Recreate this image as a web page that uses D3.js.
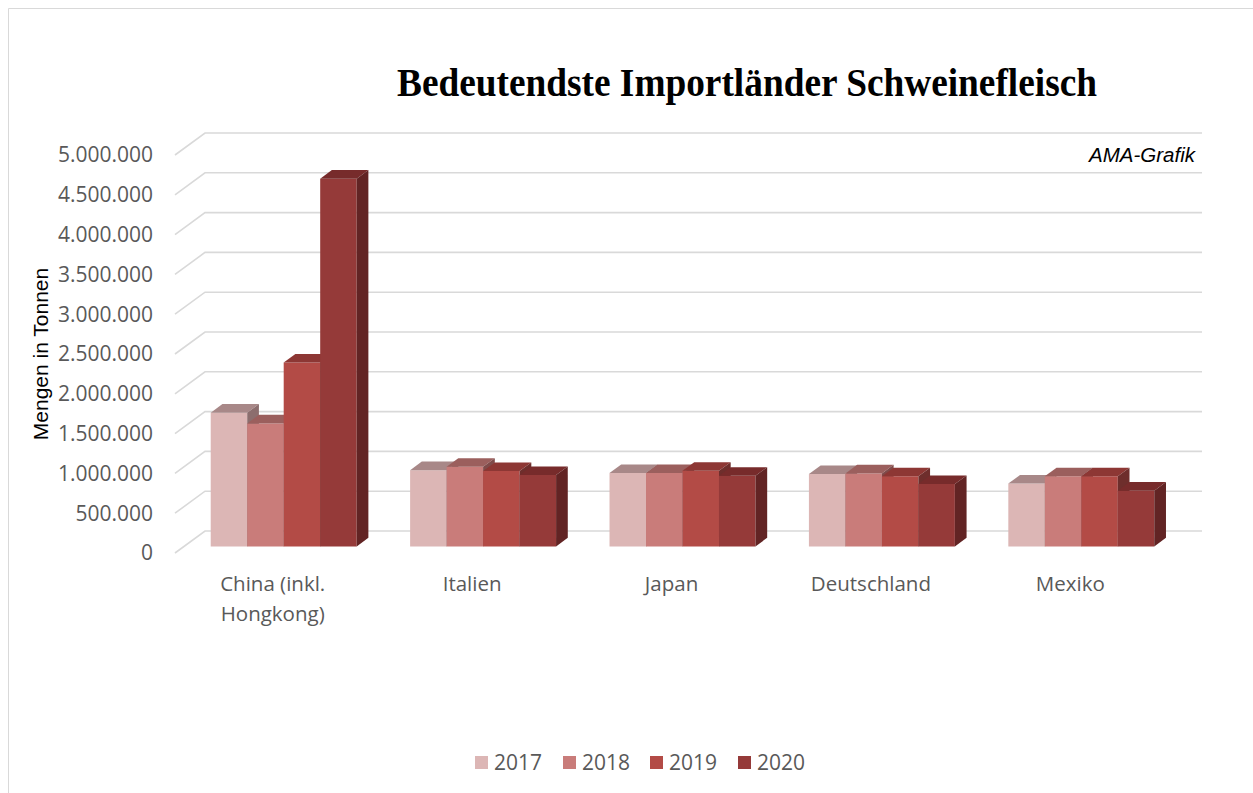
<!DOCTYPE html>
<html>
<head>
<meta charset="utf-8">
<script src="https://cdn.jsdelivr.net/npm/d3@7"></script>
<style>
  body { margin: 0; background: #fff; }
  svg { display: block; }
</style>
</head>
<body>
<div id="chart"></div>
<script>
// data
const categories = ["China (inkl. Hongkong)", "Italien", "Japan", "Deutschland", "Mexiko"]
const categoryLines = [["China (inkl.", "Hongkong)"], ["Italien"], ["Japan"], ["Deutschland"], ["Mexiko"]]
const years = ["2017", "2018", "2019", "2020"]
const values2017 = [1680000, 958000, 922000, 910000, 790000]
const values2018 = [1545000, 1000000, 922000, 917000, 880000]
const values2019 = [2310000, 946000, 950000, 880000, 880000]
const values2020 = [4620000, 896000, 888000, 784000, 700000]
const yTicks = [0, 500000, 1000000, 1500000, 2000000, 2500000, 3000000, 3500000, 4000000, 4500000, 5000000]

const series = [values2017, values2018, values2019, values2020]

const frontColors = ["#dcb6b5", "#c97c7a", "#b34b46", "#953a39"]
const topColors = ["#a88888", "#9b5f5d", "#8d3734", "#772b2b"]
const sideColors = ["#8c6e6e", "#7f4b4a", "#6e2e2c", "#622424"]

const width = 1253, height = 793

const svg = d3.select("#chart").append("svg")
    .attr("width", width)
    .attr("height", height)

// outer frame
svg.append("path")
    .attr("d", "M8.5,800 L8.5,8.5 L1260,8.5")
    .attr("fill", "none")
    .attr("stroke", "#d9d9d9")
    .attr("stroke-width", 1)

// oblique projection: depth 0 = front floor edge, 1 = back wall
const DX = 30, DY = -22
const proj = (x, y, d) => [x + DX * d, y + DY * d]

const x = d3.scaleBand().domain(categories).range([175, 1172])
const y = d3.scaleLinear().domain([0, 5000000]).range([553, 155])

const groupW = x.bandwidth() * 0.732
const xSub = d3.scaleBand().domain(years).range([0, groupW])

// gridlines
const grid = svg.append("g")
yTicks.forEach(t => {
    const [bx, by] = proj(175, y(t), 1)
    grid.append("path")
        .attr("d", `M175,${y(t)} L${bx},${by} L${1172 + DX},${by}`)
        .attr("fill", "none")
        .attr("stroke", "#d9d9d9")
        .attr("stroke-width", 1.6)
})

// y tick labels
svg.append("g").selectAll("text")
    .data(yTicks)
    .join("text")
    .attr("x", 153)
    .attr("y", d => y(d))
    .attr("dy", "0.35em")
    .attr("text-anchor", "end")
    .style("font-family", "'Open Sans', sans-serif")
    .style("font-size", "21px")
    .style("fill", "#595959")
    .text(d => d3.format(",")(d).replace(/,/g, "."))

// axis title
svg.append("text")
    .attr("transform", "translate(48,354) rotate(-90)")
    .attr("text-anchor", "middle")
    .style("font-family", "'Liberation Sans', Arial, sans-serif")
    .style("font-size", "21px")
    .style("fill", "#000")
    .text("Mengen in Tonnen")

// bars
const D0 = 0.3, D1 = 0.69
const bars = svg.append("g")
categories.forEach((cat, ci) => {
    const gx = x(cat) + (x.bandwidth() - groupW) / 2
    years.forEach((yr, si) => {
        const v = series[si][ci]
        const x0 = gx + xSub(yr), x1 = x0 + xSub.bandwidth()
        const yb = y(0), yt = y(v)
        const pts = (arr) => arr.map(p => p.join(",")).join(" ")
        // front
        bars.append("polygon")
            .attr("points", pts([proj(x0, yt, D0), proj(x1, yt, D0), proj(x1, yb, D0), proj(x0, yb, D0)]))
            .attr("fill", frontColors[si])
        // top
        bars.append("polygon")
            .attr("points", pts([proj(x0, yt, D0), proj(x1, yt, D0), proj(x1, yt, D1), proj(x0, yt, D1)]))
            .attr("fill", topColors[si])
        // side
        bars.append("polygon")
            .attr("points", pts([proj(x1, yt, D0), proj(x1, yt, D1), proj(x1, yb, D1), proj(x1, yb, D0)]))
            .attr("fill", sideColors[si])
    })
})

// category labels
const catG = svg.append("g")
categories.forEach((cat, ci) => {
    const t = catG.append("text")
        .attr("x", x(cat) + x.bandwidth() / 2 - 2)
        .attr("y", 591)
        .attr("text-anchor", "middle")
        .style("font-family", "'Open Sans', sans-serif")
        .style("font-size", "20.5px")
        .style("fill", "#595959")
    categoryLines[ci].forEach((line, li) => {
        t.append("tspan")
            .attr("x", x(cat) + x.bandwidth() / 2 - 2)
            .attr("dy", li === 0 ? 0 : 30)
            .text(line)
    })
})

// title
svg.append("text")
    .attr("x", 747)
    .attr("y", 96)
    .attr("text-anchor", "middle")
    .attr("textLength", 700)
    .attr("lengthAdjust", "spacingAndGlyphs")
    .style("font-family", "'Liberation Serif', 'Times New Roman', serif")
    .style("font-weight", "bold")
    .style("font-size", "39px")
    .style("fill", "#000")
    .text("Bedeutendste Importländer Schweinefleisch")

// source note
svg.append("text")
    .attr("x", 1195)
    .attr("y", 162)
    .attr("text-anchor", "end")
    .style("font-family", "'Liberation Sans', Arial, sans-serif")
    .style("font-style", "italic")
    .style("font-size", "20.5px")
    .style("fill", "#000")
    .text("AMA-Grafik")

// legend
const legendX = [475, 563, 650, 738]
const legend = svg.append("g")
years.forEach((yr, i) => {
    legend.append("rect")
        .attr("x", legendX[i])
        .attr("y", 756)
        .attr("width", 13)
        .attr("height", 13)
        .attr("fill", frontColors[i])
    legend.append("text")
        .attr("x", legendX[i] + 19)
        .attr("y", 762)
        .attr("dy", "0.36em")
        .style("font-family", "'Open Sans', sans-serif")
        .style("font-size", "21px")
        .style("fill", "#595959")
        .text(yr)
})
</script>
</body>
</html>
